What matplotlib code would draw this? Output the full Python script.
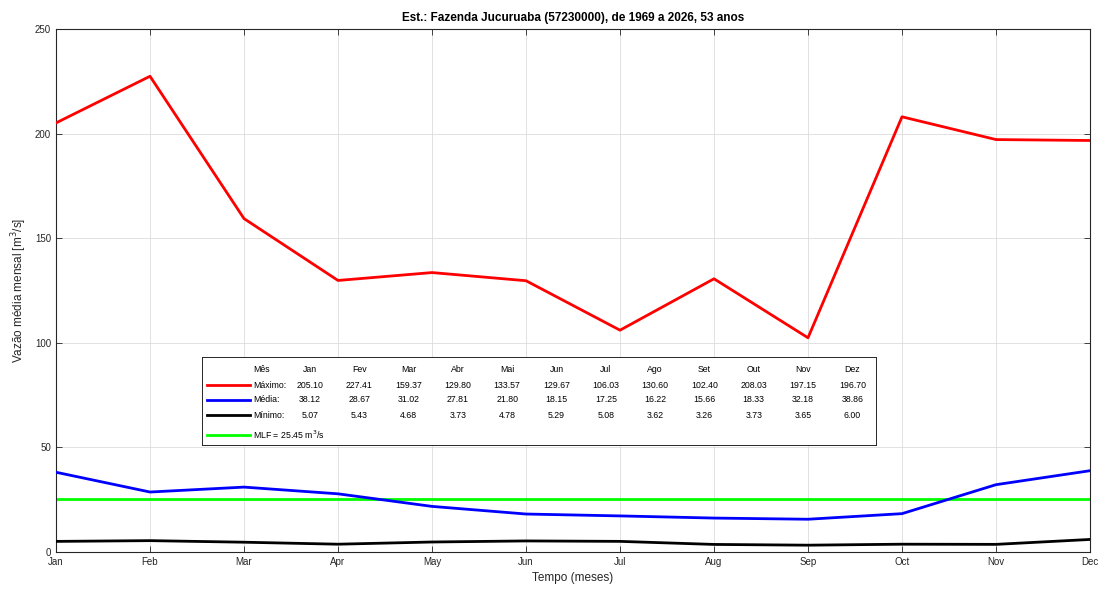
import matplotlib
matplotlib.use('Agg')
import matplotlib.pyplot as plt
import numpy as np

plt.rcParams['font.family'] = ['Liberation Sans', 'DejaVu Sans']

################################################
#           Dados                              #
################################################

meses_eixo = ['Jan', 'Feb', 'Mar', 'Apr', 'May', 'Jun',
              'Jul', 'Aug', 'Sep', 'Oct', 'Nov', 'Dec']
meses_tab = ['Jan', 'Fev', 'Mar', 'Abr', 'Mai', 'Jun',
             'Jul', 'Ago', 'Set', 'Out', 'Nov', 'Dez']

vmax = [205.10, 227.41, 159.37, 129.80, 133.57, 129.67,
        106.03, 130.60, 102.40, 208.03, 197.15, 196.70]
vmed = [38.12, 28.67, 31.02, 27.81, 21.80, 18.15,
        17.25, 16.22, 15.66, 18.33, 32.18, 38.86]
vmin = [5.07, 5.43, 4.68, 3.73, 4.78, 5.29,
        5.08, 3.62, 3.26, 3.73, 3.65, 6.00]
mlf = 25.45

titulo = 'Est.: Fazenda Jucuruaba (57230000), de 1969 a 2026, 53 anos'

################################################
#           Grafico                            #
################################################

W, H = 1100, 599
fig = plt.figure(figsize=(11, 5.99), dpi=100)
ax = fig.add_axes([56 / W, 47 / H, 1034 / W, 523 / H])

x = np.arange(1, 13)
cor_max = '#ff0000'
cor_med = '#0000ff'
cor_min = '#000000'
cor_mlf = '#00ff00'

ax.plot(x, vmax, color=cor_max, lw=2, zorder=3)
ax.plot(x, vmed, color=cor_med, lw=2, zorder=3)
ax.plot(x, vmin, color=cor_min, lw=2, zorder=3)
ax.plot(x, [mlf] * 12, color=cor_mlf, lw=2, zorder=2)

ax.set_xlim(1, 12)
ax.set_ylim(0, 250)
ax.set_xticks(x)
ax.set_xticklabels(meses_eixo)
ax.set_yticks(np.arange(0, 251, 50))
ax.tick_params(direction='in', labelsize=7, length=4, width=0.6,
               top=True, right=True, colors='#262626')
ax.grid(True, color='#dcdcdc', lw=0.6)
for s in ax.spines.values():
    s.set_color('#262626')
    s.set_linewidth(0.8)
ax.set_xlabel('Tempo (meses)', fontsize=8.5, color='#262626')
ax.set_ylabel('Vazão média mensal [m$^3$/s]', fontsize=8.5, color='#262626')
ax.set_title(titulo, fontsize=8.5, fontweight='bold', pad=6)

# Legenda em forma de tabela
lx0, ly0, lx1, ly1 = 202, 357, 876, 445
lax = fig.add_axes([lx0 / W, 1 - ly1 / H, (lx1 - lx0) / W, (ly1 - ly0) / H])
lax.set_xlim(0, lx1 - lx0)
lax.set_ylim(ly1 - ly0, 0)
lax.set_xticks([])
lax.set_yticks([])
for s in lax.spines.values():
    s.set_color('#262626')
    s.set_linewidth(0.7)

fs = 6.3
linhas_y = [13, 28, 43, 58, 78]
col_x = 108 + 49.3 * np.arange(12)
lax.text(51, linhas_y[0], 'Mês', fontsize=fs, va='center', ha='left')
for cx, m in zip(col_x, meses_tab):
    lax.text(cx, linhas_y[0], m, fontsize=fs, va='center', ha='center')

series = [('Máximo', vmax, cor_max), ('Média', vmed, cor_med),
          ('Mínimo', vmin, cor_min)]
for (nome, vals, cor), yy in zip(series, linhas_y[1:4]):
    lax.plot([5, 48], [yy, yy], color=cor, lw=2)
    lax.text(51, yy, nome + ':', fontsize=fs, va='center', ha='left')
    for cx, v in zip(col_x, vals):
        lax.text(cx, yy, '%.2f' % v, fontsize=fs, va='center', ha='center')

lax.plot([5, 48], [linhas_y[4], linhas_y[4]], color=cor_mlf, lw=2)
lax.text(51, linhas_y[4], 'MLF = %.2f m$^3$/s' % mlf, fontsize=fs,
         va='center', ha='left')

fig.savefig('out.png', dpi=100)
